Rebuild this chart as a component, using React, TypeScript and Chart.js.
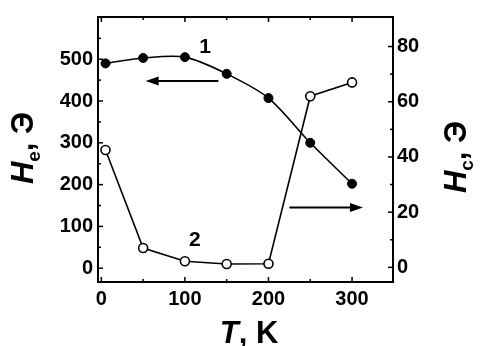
import React, { useEffect, useRef } from "react";
import { Chart, registerables } from "chart.js";

Chart.register(...registerables);

// Data
const temperatures = [5, 50, 100, 150, 200, 250, 300];
const heValues = [490, 503, 505, 465, 407, 300, 202]; // curve 1, left axis (Oe)
const hcValues = [42.5, 7, 2.2, 1.2, 1.3, 62, 67]; // curve 2, right axis (Oe)

const xTicks = [0, 100, 200, 300];
const xMinorTicks = [50, 150, 250];
const leftTicks = [0, 100, 200, 300, 400, 500];
const leftMinorTicks = [50, 150, 250, 350, 450, 550];
const rightTicks = [0, 20, 40, 60, 80];
const rightMinorTicks = [10, 30, 50, 70];

// Annotations in data coordinates
const leftArrow = { from: 140, to: 53, value: 448 }; // on left axis
const rightArrow = { from: 225, to: 313, value: 21.7 }; // on right axis
const curveLabels = [
  { text: "1", t: 124, value: 528 },
  { text: "2", t: 112, value: 66 },
];

const FONT = "'Liberation Sans', Arial, sans-serif";

type Run = { text: string; font: string; dy?: number };

function drawRuns(ctx: CanvasRenderingContext2D, runs: Run[], cx: number, cy: number, rot: number) {
  ctx.save();
  ctx.translate(cx, cy);
  ctx.rotate(rot);
  ctx.textBaseline = "alphabetic";
  ctx.textAlign = "left";
  let total = 0;
  const widths = runs.map((r) => {
    ctx.font = r.font;
    const w = ctx.measureText(r.text).width;
    total += w;
    return w;
  });
  let x = -total / 2;
  runs.forEach((r, i) => {
    ctx.font = r.font;
    ctx.fillText(r.text, x, 11 + (r.dy || 0));
    x += widths[i];
  });
  ctx.restore();
}

const decorPlugin = {
  id: "decor",
  afterDatasetsDraw(chart: any) {
    const { ctx, chartArea: a, scales } = chart;
    const sx = scales.x;
    const yl = scales.yL;
    const yr = scales.yR;
    ctx.save();
    ctx.strokeStyle = "#000";
    ctx.fillStyle = "#000";

    // frame
    ctx.lineWidth = 2;
    ctx.strokeRect(a.left, a.top, a.right - a.left, a.bottom - a.top);

    const seg = (x1: number, y1: number, x2: number, y2: number) => {
      ctx.beginPath();
      ctx.moveTo(x1, y1);
      ctx.lineTo(x2, y2);
      ctx.stroke();
    };
    ctx.lineWidth = 1.5;
    const xt = (vals: number[], len: number) =>
      vals.forEach((v) => {
        const p = sx.getPixelForValue(v);
        seg(p, a.bottom, p, a.bottom - len);
        seg(p, a.top, p, a.top + len);
      });
    xt(xTicks, 5);
    xt(xMinorTicks, 3);
    leftTicks.forEach((v) => { const p = yl.getPixelForValue(v); seg(a.left, p, a.left + 5, p); });
    leftMinorTicks.forEach((v) => { const p = yl.getPixelForValue(v); seg(a.left, p, a.left + 3, p); });
    rightTicks.forEach((v) => { const p = yr.getPixelForValue(v); seg(a.right, p, a.right - 5, p); });
    rightMinorTicks.forEach((v) => { const p = yr.getPixelForValue(v); seg(a.right, p, a.right - 3, p); });

    // arrows
    const arrow = (x1: number, x2: number, y: number) => {
      const dir = Math.sign(x2 - x1);
      ctx.lineWidth = 2;
      seg(x1, y, x2 - dir * 8, y);
      ctx.beginPath();
      ctx.moveTo(x2, y);
      ctx.lineTo(x2 - dir * 13, y - 4.5);
      ctx.lineTo(x2 - dir * 13, y + 4.5);
      ctx.closePath();
      ctx.fill();
    };
    arrow(sx.getPixelForValue(leftArrow.from), sx.getPixelForValue(leftArrow.to), yl.getPixelForValue(leftArrow.value));
    arrow(sx.getPixelForValue(rightArrow.from), sx.getPixelForValue(rightArrow.to), yr.getPixelForValue(rightArrow.value));

    // curve labels
    ctx.font = `bold 21px ${FONT}`;
    ctx.textAlign = "center";
    ctx.textBaseline = "middle";
    curveLabels.forEach((l) => {
      ctx.fillText(l.text, sx.getPixelForValue(l.t), yl.getPixelForValue(l.value));
    });

    // axis titles
    const big = `italic bold 31px ${FONT}`;
    const reg = `bold 31px ${FONT}`;
    const sub = `bold 19px ${FONT}`;
    drawRuns(ctx, [
      { text: "H", font: big },
      { text: "e", font: sub, dy: 7 },
      { text: ", Э", font: reg },
    ], 22, 148, -Math.PI / 2);
    drawRuns(ctx, [
      { text: "H", font: big },
      { text: "c", font: sub, dy: 7 },
      { text: ", Э", font: reg },
    ], 455, 157, -Math.PI / 2);
    drawRuns(ctx, [
      { text: "T", font: big },
      { text: ", K", font: reg },
    ], 249, 332, 0);

    ctx.restore();
  },
};

export default function App() {
  const ref = useRef<HTMLCanvasElement | null>(null);

  useEffect(() => {
    if (!ref.current) return;
    const tickFont = { family: FONT, size: 20, weight: "bold" as const };
    const chart = new Chart(ref.current, {
      type: "line",
      data: {
        datasets: [
          {
            label: "He",
            data: temperatures.map((t, i) => ({ x: t, y: heValues[i] })),
            yAxisID: "yL",
            borderColor: "#000",
            borderWidth: 1.6,
            backgroundColor: "#000",
            pointBackgroundColor: "#000",
            pointBorderColor: "#000",
            pointRadius: 4.5,
            pointBorderWidth: 1,
            tension: 0.3,
            fill: false,
          },
          {
            label: "Hc",
            data: temperatures.map((t, i) => ({ x: t, y: hcValues[i] })),
            yAxisID: "yR",
            borderColor: "#000",
            borderWidth: 1.6,
            backgroundColor: "#fff",
            pointBackgroundColor: "#fff",
            pointBorderColor: "#000",
            pointRadius: 4.5,
            pointBorderWidth: 1.6,
            tension: 0,
            fill: false,
          },
        ],
      },
      options: {
        animation: false,
        responsive: false,
        devicePixelRatio: 1,
        layout: { padding: { top: 12, left: 0, right: 0, bottom: 0 } },
        plugins: { legend: { display: false }, tooltip: { enabled: false } },
        scales: {
          x: {
            type: "linear",
            min: -4,
            max: 349,
            grid: { display: false, drawTicks: false },
            border: { display: false },
            ticks: { font: tickFont, color: "#000", padding: 5, maxRotation: 0 },
            afterBuildTicks: (s: any) => { s.ticks = xTicks.map((v) => ({ value: v })); },
            afterFit: (s: any) => { s.height = 64; },
          },
          yL: {
            type: "linear",
            position: "left",
            min: -33,
            max: 601,
            grid: { display: false, drawTicks: false },
            border: { display: false },
            ticks: { font: tickFont, color: "#000", padding: 5 },
            afterBuildTicks: (s: any) => { s.ticks = leftTicks.map((v) => ({ value: v })); },
            afterFit: (s: any) => { s.width = 98; },
          },
          yR: {
            type: "linear",
            position: "right",
            min: -5.3,
            max: 90.7,
            grid: { display: false, drawTicks: false },
            border: { display: false },
            ticks: { font: tickFont, color: "#000", padding: 4 },
            afterBuildTicks: (s: any) => { s.ticks = rightTicks.map((v) => ({ value: v })); },
            afterFit: (s: any) => { s.width = 89; },
          },
        },
      },
      plugins: [decorPlugin],
    });
    return () => chart.destroy();
  }, []);

  return (
    <div style={{ position: "absolute", left: 0, top: 0, width: 482, height: 346, background: "#fff" }}>
      <canvas ref={ref} width={482} height={346} style={{ display: "block" }} />
    </div>
  );
}
